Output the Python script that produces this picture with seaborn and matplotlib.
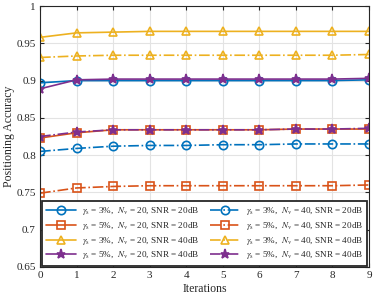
import matplotlib
matplotlib.use("Agg")
import matplotlib.pyplot as plt
import seaborn as sns
import pandas as pd

iterations = list(range(10))

# Nv = 20 (solid)
acc_g3_n20_s20 = [0.897, 0.900, 0.900, 0.900, 0.900, 0.900, 0.900, 0.900, 0.900, 0.901]
acc_g5_n20_s20 = [0.823, 0.830, 0.834, 0.834, 0.834, 0.834, 0.834, 0.835, 0.835, 0.835]
acc_g3_n20_s40 = [0.958, 0.964, 0.965, 0.966, 0.966, 0.966, 0.966, 0.966, 0.966, 0.966]
acc_g5_n20_s40 = [0.889, 0.901, 0.902, 0.902, 0.902, 0.902, 0.902, 0.902, 0.902, 0.903]
# Nv = 40 (dash-dot)
acc_g3_n40_s20 = [0.805, 0.809, 0.812, 0.813, 0.813, 0.814, 0.814, 0.815, 0.815, 0.815]
acc_g5_n40_s20 = [0.749, 0.756, 0.758, 0.759, 0.759, 0.759, 0.759, 0.759, 0.759, 0.760]
acc_g3_n40_s40 = [0.931, 0.933, 0.934, 0.934, 0.934, 0.934, 0.934, 0.934, 0.934, 0.935]
acc_g5_n40_s40 = [0.825, 0.831, 0.834, 0.834, 0.834, 0.834, 0.834, 0.835, 0.835, 0.836]

labels = [
    r"$\gamma_{\rm s}$ = 3%,  $N_{\rm v}$ = 20, SNR = 20dB",
    r"$\gamma_{\rm s}$ = 5%,  $N_{\rm v}$ = 20, SNR = 20dB",
    r"$\gamma_{\rm s}$ = 3%,  $N_{\rm v}$ = 20, SNR = 40dB",
    r"$\gamma_{\rm s}$ = 5%,  $N_{\rm v}$ = 20, SNR = 40dB",
    r"$\gamma_{\rm s}$ = 3%,  $N_{\rm v}$ = 40, SNR = 20dB",
    r"$\gamma_{\rm s}$ = 5%,  $N_{\rm v}$ = 40, SNR = 20dB",
    r"$\gamma_{\rm s}$ = 3%,  $N_{\rm v}$ = 40, SNR = 40dB",
    r"$\gamma_{\rm s}$ = 5%,  $N_{\rm v}$ = 40, SNR = 40dB",
]
series = [acc_g3_n20_s20, acc_g5_n20_s20, acc_g3_n20_s40, acc_g5_n20_s40,
          acc_g3_n40_s20, acc_g5_n40_s20, acc_g3_n40_s40, acc_g5_n40_s40]

colors = ["#0072BD", "#D95319", "#EDB120", "#7E2F8E"] * 2
markers = ["o", "s", "^", "*"] * 2
styles = ["-"] * 4 + ["-."] * 4

sns.set_style("ticks")
plt.rcParams["font.family"] = ["Liberation Serif", "DejaVu Serif"]
plt.rcParams["mathtext.fontset"] = "stix"

fig = plt.figure(figsize=(3.78, 3.01), dpi=100)
ax = fig.add_axes([0.106, 0.113, 0.87, 0.867])

for vals, lab, c, m, ls in zip(series, labels, colors, markers, styles):
    df = pd.DataFrame({"Iterations": iterations, "acc": vals})
    filled = m == "*"
    sns.lineplot(data=df, x="Iterations", y="acc", ax=ax, color=c,
                 linestyle=ls, linewidth=1.2, marker=m,
                 markersize=6 if m != "*" else 6.5,
                 markerfacecolor=c if filled else "none",
                 markeredgecolor=c, markeredgewidth=1.2, label=lab)

ax.set_xlim(0, 9)
ax.set_ylim(0.65, 1)
ax.set_xticks(range(10))
yt = [0.65, 0.7, 0.75, 0.8, 0.85, 0.9, 0.95, 1]
ax.set_yticks(yt)
ax.set_yticklabels(["0.65", "0.7", "0.75", "0.8", "0.85", "0.9", "0.95", "1"])
ax.grid(True, color="#e3e3e3", linewidth=0.8)
ax.set_axisbelow(True)
ax.tick_params(direction="in", top=True, right=True, labelsize=8, length=3,
               colors="#262626", pad=3)
for s in ax.spines.values():
    s.set_color("#262626")
    s.set_linewidth(0.8)
ax.set_xlabel("Iterations", fontsize=8.5, labelpad=2)
ax.set_ylabel("Positioning Accuracy", fontsize=8.5, labelpad=1)

leg = ax.legend(loc="lower center", bbox_to_anchor=(0.5, 0.0), ncol=2,
                fontsize=6.6, frameon=True, fancybox=False, handlelength=3.3,
                columnspacing=1.2, handletextpad=0.6, labelspacing=0.3,
                borderpad=0.45, borderaxespad=0.15)
leg.get_frame().set_edgecolor("#262626")
leg.get_frame().set_linewidth(1.3)
leg.get_frame().set_alpha(1)

fig.savefig("out.png", dpi=100)
